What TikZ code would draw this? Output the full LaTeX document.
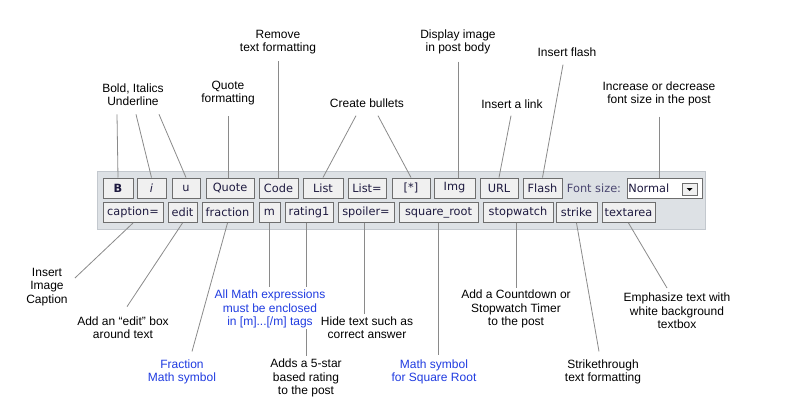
\documentclass[tikz,border=0pt]{standalone}
\usepackage{fontspec}
\setmainfont{Liberation Sans}
\newfontfamily\btnfont{DejaVu Sans}
\usetikzlibrary{calc}
\definecolor{panelgray}{HTML}{DDE1E5}
\definecolor{panelline}{HTML}{C3C8CE}
\definecolor{btnfill}{HTML}{F0F0F0}
\definecolor{btnline}{HTML}{6E6E6E}
\definecolor{btntext}{HTML}{1E1A40}
\definecolor{sizetext}{HTML}{4A4670}
\definecolor{leadgray}{HTML}{8A8A8A}
\definecolor{mathblue}{HTML}{1F3BE0}

\begin{document}
\begin{tikzpicture}[
  x=0.75pt, y=-0.75pt,
  btn/.style={draw=btnline, fill=btnfill, text=btntext, line width=0.75pt,
    font=\btnfont\fontsize{8.5}{10}\selectfont, minimum height=15pt, inner sep=0pt},
  note/.style={align=center, font=\fontsize{9}{10}\selectfont, inner sep=0pt},
  mathnote/.style={note, text=mathblue},
  leader/.style={draw=leadgray, line width=0.6pt}
]
  \useasboundingbox (0,0) rectangle (800,400);
  \draw[draw=panelline, fill=panelgray] (97,171) rectangle (705,229);

  % first row
  \node[btn, minimum width=22.5pt] (bB) at (118,188) {\textbf{B}};
  \node[btn, minimum width=21.75pt] (ital) at (151.5,188) {\textit{i}};
  \node[btn, minimum width=21pt] (under) at (186,188) {u};
  \node[btn, minimum width=36pt] (quote) at (230,188) {Quote};
  \node[btn, minimum width=29.25pt] (code) at (278.5,188) {Code};
  \node[btn, minimum width=30pt] (list) at (323,188) {List};
  \node[btn, minimum width=28.5pt] (listeq) at (367,188) {List=};
  \node[btn, minimum width=28.5pt] (bullet) at (411,188) {[*]};
  \node[btn, minimum width=30.75pt] (img) at (454.5,188) {Img};
  \node[btn, minimum width=28.5pt] (url) at (499,188) {URL};
  \node[btn, minimum width=29.25pt] (flash) at (542.5,188) {Flash};
  \node[text=sizetext, font=\btnfont\fontsize{8.5}{10}\selectfont, inner sep=0pt] (sizelbl) at (594,188) {Font size:};
  \node[btn, fill=white, anchor=west, minimum width=56.25pt] (fontsel) at (627,188) {};
  \node[anchor=west, text=btntext, font=\btnfont\fontsize{8.5}{10}\selectfont, inner sep=0pt] (selval) at (628,188) {Normal};
  \node[draw=btnline, fill=btnfill, line width=0.75pt, minimum width=11.25pt, minimum height=9pt, inner sep=0pt] (seldrop) at (689.5,189) {};
  \fill ($(seldrop)+(-3,-1)$) -- ++(6,0) -- ++(-3,3) -- cycle;

  % second row
  \node[btn, minimum width=45pt] (caption) at (133,212.5) {caption=};
  \node[btn, minimum width=21.75pt] (edit) at (182.5,212.5) {edit};
  \node[btn, minimum width=38.25pt] (fraction) at (227.5,212.5) {fraction};
  \node[btn, minimum width=15.75pt] (m) at (269.5,212.5) {m};
  \node[btn, minimum width=36pt] (rating) at (309,212.5) {rating1};
  \node[btn, minimum width=42pt] (spoiler) at (366,212.5) {spoiler=};
  \node[btn, minimum width=59.25pt] (sqroot) at (438.5,212.5) {square\_root};
  \node[btn, minimum width=52.5pt] (stopwatch) at (518,212.5) {stopwatch};
  \node[btn, minimum width=30.75pt] (strike) at (576.5,212.5) {strike};
  \node[btn, minimum width=39.75pt] (textarea) at (628.5,212.5) {textarea};

  % notes above
  \node[note] (lblBold) at (133,95) {Bold, Italics\\Underline};
  \node[note] (lblQuote) at (228,93) {Quote\\formatting};
  \node[note] (lblRemove) at (278,42) {Remove\\text formatting};
  \node[note] (lblBullets) at (367,103) {Create bullets};
  \node[note] (lblImg) at (458,42) {Display image\\in post body};
  \node[note] (lblLink) at (512,104) {Insert a link};
  \node[note] (lblFlash) at (567,52) {Insert flash};
  \node[note] (lblSize) at (659,94) {Increase or decrease\\font size in the post};

  % notes below
  \node[note] (lblCaption) at (47,287) {Insert\\Image\\Caption};
  \node[note] (lblEdit) at (123,328) {Add an “edit” box\\around text};
  \node[mathnote] (lblFrac) at (182,372) {Fraction\\Math symbol};
  \node[mathnote] (lblMath) at (270,309) {All Math expressions\\must be enclosed\\in [m]...[/m] tags};
  \node[note] (lblRating) at (306,378) {Adds a 5-star\\based rating\\to the post};
  \node[note] (lblSpoiler) at (367,328) {Hide text such as\\correct answer};
  \node[mathnote] (lblRoot) at (434,372) {Math symbol\\for Square Root};
  \node[note] (lblWatch) at (516,309) {Add a Countdown or\\Stopwatch Timer\\to the post};
  \node[note] (lblStrike) at (603,372) {Strikethrough\\text formatting};
  \node[note] (lblArea) at (677,311) {Emphasize text with\\white background\\textbox};

  \draw[leader] ($(lblBold.south)+(-16,8)$) -- (bB.north);
  \draw[leader] ($(lblBold.south)+(3,8)$) -- (ital.north);
  \draw[leader] ($(lblBold.south)+(26,8)$) -- (under.north);
  \draw[leader] ($(lblQuote.south)+(0,11)$) -- (lblQuote.south |- quote.north);
  \draw[leader] ($(lblRemove.south)+(0,7)$) -- (lblRemove.south |- code.north);
  \draw[leader] ($(lblBullets.south)+(-11,8)$) -- (list.north);
  \draw[leader] ($(lblBullets.south)+(11,8)$) -- (bullet.north);
  \draw[leader] ($(lblImg.south)+(0,7)$) -- (lblImg.south |- img.north);
  \draw[leader] ($(lblLink.south)+(-1,7)$) -- (url.north);
  \draw[leader] ($(lblFlash.south)+(-4,8)$) -- (flash.north);
  \draw[leader] ($(lblSize.south)+(0,10)$) -- (lblSize.south |- fontsel.north);

  \draw[leader] (caption.south) -- ($(lblCaption.east)+(7,-9)$);
  \draw[leader] (edit.south) -- ($(lblEdit.north)+(4,-10)$);
  \draw[leader] (fraction.south) -- ($(lblFrac.north)+(10,-8)$);
  \draw[leader] (m.south) -- ($(m.south |- lblMath.north)+(0,-3)$);
  \draw[leader] (lblRating.north |- rating.south) -- ($(lblRating.north |- lblMath.north)+(0,-3)$);
  \draw[leader] ($(lblRating.north |- lblMath.south)+(0,1)$) -- ($(lblRating.north)+(0,-3)$);
  \draw[leader] ($(spoiler.south)+(-2,0)$) -- ($(spoiler.south |- lblSpoiler.north)+(-2,-3)$);
  \draw[leader] (sqroot.south) -- ($(sqroot.south |- lblRoot.north)+(0,-4)$);
  \draw[leader] (lblWatch.north |- stopwatch.south) -- ($(lblWatch.north)+(0,-2)$);
  \draw[leader] (strike.south) -- ($(lblStrike.north)+(-4,-8)$);
  \draw[leader] (textarea.south) -- ($(lblArea.north)+(-10,-5)$);
\end{tikzpicture}
\end{document}
